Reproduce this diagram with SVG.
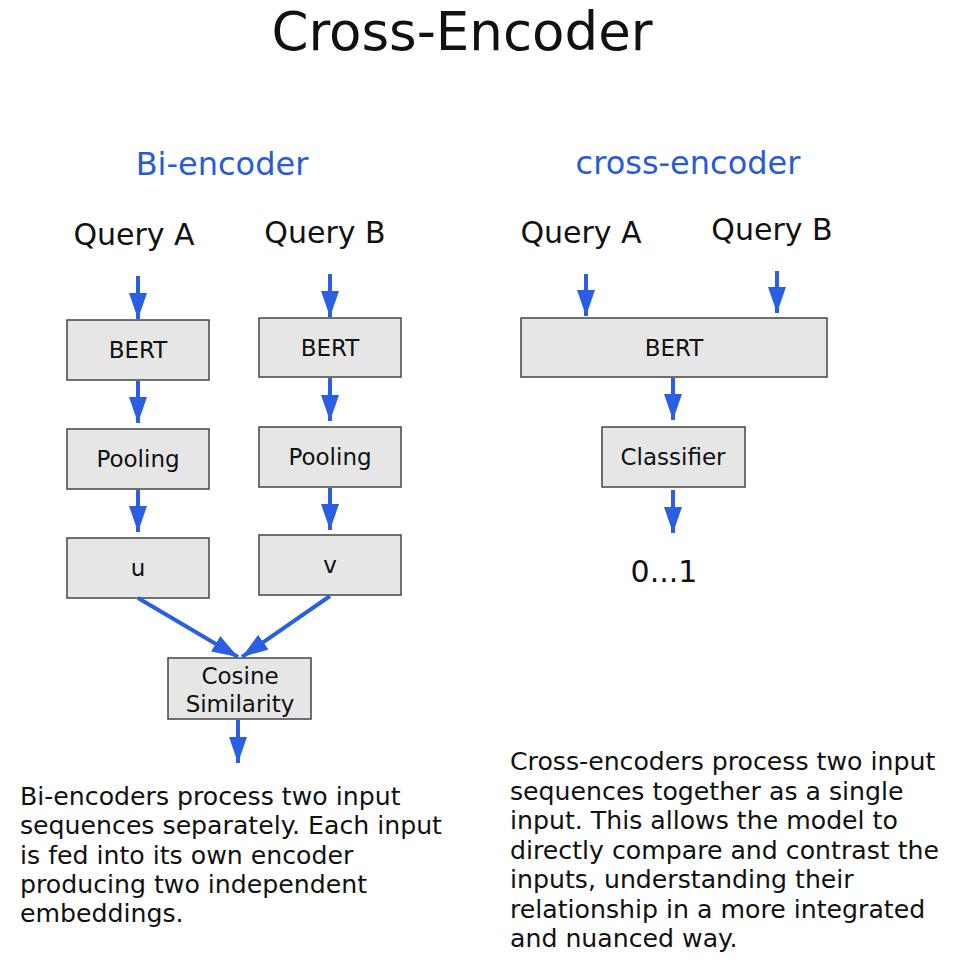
<svg xmlns="http://www.w3.org/2000/svg" width="953" height="970" viewBox="0 0 953 970">
<defs>
<style>
text{font-family:"DejaVu Sans","Noto Sans",sans-serif;fill:#111;}
.title{font-size:53px;text-anchor:middle;}
.sub{font-size:32px;fill:#2a5bd7;text-anchor:middle;}
.q{font-size:30px;text-anchor:middle;}
.lbl{font-size:23px;text-anchor:middle;}
.para{font-size:25.2px;}
.box{fill:#e6e6e6;stroke:#444;stroke-width:1.5;}
.con{stroke:#2b5fe3;stroke-width:4;fill:none;}
</style>
<marker id="ah" viewBox="0 0 13 9" refX="13" refY="4.5" markerWidth="6.5" markerHeight="4.5" markerUnits="strokeWidth" orient="auto">
<path d="M0,0 L13,4.5 L0,9 z" fill="#2b5fe3"/>
</marker>
</defs>
<rect width="953" height="970" fill="#fff"/>
<text class="title" x="462" y="50">Cross-Encoder</text>
<text class="sub" x="222" y="175">Bi-encoder</text>
<text class="sub" x="688" y="174">cross-encoder</text>
<text class="q" x="134" y="245">Query A</text>
<text class="q" x="325" y="243">Query B</text>
<text class="q" x="581" y="243">Query A</text>
<text class="q" x="772" y="240">Query B</text>

<g id="bert1"><rect class="box" x="67" y="320" width="142" height="60"/><text class="lbl" x="138" y="358">BERT</text></g>
<g id="pool1"><rect class="box" x="67" y="429" width="142" height="60"/><text class="lbl" x="138" y="467">Pooling</text></g>
<g id="u"><rect class="box" x="67" y="538" width="142" height="60"/><text class="lbl" x="138" y="576">u</text></g>
<g id="bert2"><rect class="box" x="259" y="318" width="142" height="59"/><text class="lbl" x="330" y="356">BERT</text></g>
<g id="pool2"><rect class="box" x="259" y="427" width="142" height="60"/><text class="lbl" x="330" y="465">Pooling</text></g>
<g id="v"><rect class="box" x="259" y="535" width="142" height="60"/><text class="lbl" x="330" y="573">v</text></g>
<g id="cos"><rect class="box" x="168" y="658" width="143" height="61"/><text class="lbl" x="240" y="684">Cosine</text><text class="lbl" x="240" y="712">Similarity</text></g>
<g id="bert3"><rect class="box" x="521" y="318" width="306" height="59"/><text class="lbl" x="674" y="356">BERT</text></g>
<g id="cls"><rect class="box" x="602" y="427" width="143" height="60"/><text class="lbl" x="673" y="465">Classifier</text></g>
<text class="q" x="664" y="582">0...1</text>

<g id="connectors">
<line class="con" x1="138" y1="276" x2="138" y2="319" marker-end="url(#ah)"/>
<line class="con" x1="330" y1="274" x2="330" y2="317" marker-end="url(#ah)"/>
<line class="con" x1="138" y1="381" x2="138" y2="423" marker-end="url(#ah)"/>
<line class="con" x1="330" y1="378" x2="330" y2="421" marker-end="url(#ah)"/>
<line class="con" x1="138" y1="490" x2="138" y2="532" marker-end="url(#ah)"/>
<line class="con" x1="330" y1="488" x2="330" y2="530" marker-end="url(#ah)"/>
<line class="con" x1="138" y1="598" x2="238" y2="657" marker-end="url(#ah)"/>
<line class="con" x1="330" y1="596" x2="242" y2="657" marker-end="url(#ah)"/>
<line class="con" x1="238" y1="720" x2="238" y2="763" marker-end="url(#ah)"/>
<line class="con" x1="586" y1="274" x2="586" y2="316" marker-end="url(#ah)"/>
<line class="con" x1="777" y1="271" x2="777" y2="313" marker-end="url(#ah)"/>
<line class="con" x1="673" y1="378" x2="673" y2="420" marker-end="url(#ah)"/>
<line class="con" x1="673" y1="490" x2="673" y2="533" marker-end="url(#ah)"/>
</g>

<text class="para" x="20" y="805">Bi-encoders process two input</text>
<text class="para" x="20" y="834">sequences separately. Each input</text>
<text class="para" x="20" y="864">is fed into its own encoder</text>
<text class="para" x="20" y="893">producing two independent</text>
<text class="para" x="20" y="922">embeddings.</text>

<text class="para" x="510" y="770">Cross-encoders process two input</text>
<text class="para" x="510" y="800">sequences together as a single</text>
<text class="para" x="510" y="829">input. This allows the model to</text>
<text class="para" x="510" y="859">directly compare and contrast the</text>
<text class="para" x="510" y="888">inputs, understanding their</text>
<text class="para" x="510" y="918">relationship in a more integrated</text>
<text class="para" x="510" y="947">and nuanced way.</text>
</svg>
